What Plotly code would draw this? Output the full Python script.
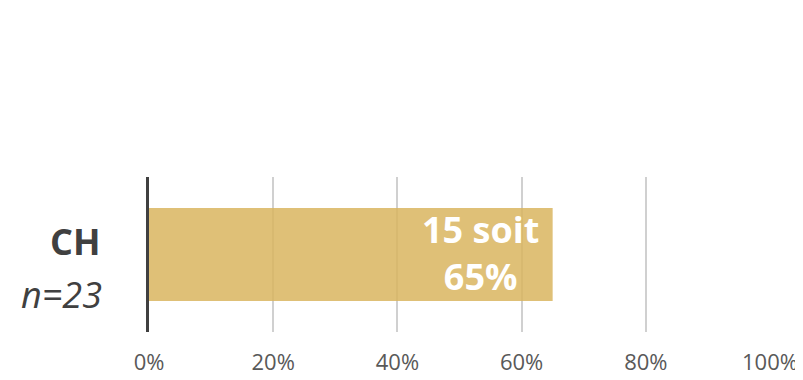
import plotly.graph_objects as go

categories = ["CH"]
n_values = [23]
counts = [15]
percents = [65]
tick_vals = [0, 20, 40, 60, 80, 100]
tick_text = ["0%", "20%", "40%", "60%", "80%", "100%"]

labels = [f"<b>{c} soit<br>{p}%</b>" for c, p in zip(counts, percents)]

fig = go.Figure()
fig.add_trace(go.Bar(
    y=categories, x=percents, orientation="h",
    marker=dict(color="rgba(217,181,95,0.85)", line=dict(width=0)),
    textposition="none", cliponaxis=False,
))

annotations = []
for cat, p, lab in zip(categories, percents, labels):
    annotations.append(dict(
        text=lab, x=p, y=cat, xref="x", yref="y", xanchor="right", yanchor="middle",
        xshift=-12, yshift=2, showarrow=False, align="center",
        font=dict(color="white", size=36, family="Open Sans"),
    ))
    annotations.append(dict(
        text=f"<b>{cat}</b>",
        x=0, y=cat, xref="paper", yref="y", xanchor="right", yanchor="bottom",
        xshift=-47, yshift=-13, showarrow=False, align="right",
        font=dict(size=36, color="#404040", family="Open Sans"),
    ))
    annotations.append(dict(
        text=f"<i>n={n_values[0]}</i>",
        x=0, y=cat, xref="paper", yref="y", xanchor="right", yanchor="top",
        xshift=-45, yshift=-13, showarrow=False, align="right",
        font=dict(size=36, color="#404040", family="Open Sans"),
    ))

fig.update_layout(
    width=795, height=372,
    margin=dict(l=141, r=33, t=169, b=48, autoexpand=False),
    paper_bgcolor="white", plot_bgcolor="white",
    bargap=0.4, showlegend=False,
    font=dict(family="Open Sans", color="#595959"),
    annotations=annotations,
)
fig.update_xaxes(
    range=[0, 100], tickvals=tick_vals, ticktext=tick_text,
    showgrid=True, gridcolor="#d0d0d0", gridwidth=1.5,
    zeroline=False, showline=False, automargin=False,
    tickfont=dict(size=22, color="#595959"), ticklabelstandoff=15,
)
fig.update_yaxes(
    showticklabels=False, showline=True, linecolor="#404040", linewidth=3,
    showgrid=False, automargin=False,
)

fig.write_html("out.html")
